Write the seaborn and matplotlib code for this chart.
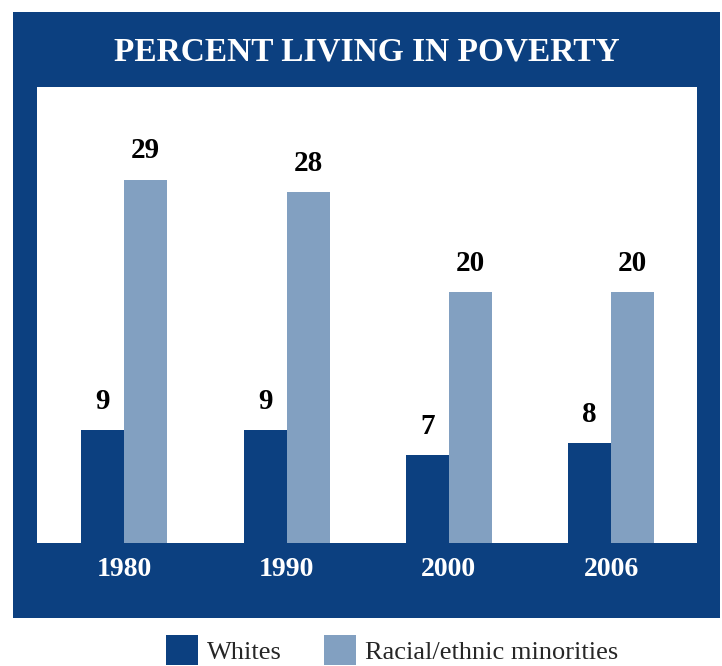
import matplotlib
matplotlib.use("Agg")
import matplotlib.pyplot as plt
from matplotlib.patches import Rectangle, Patch
import pandas as pd
import seaborn as sns

# --- chart colours ---
DARK_BLUE = "#0C4080"
LIGHT_BLUE = "#82A0C1"

# data
years = ["1980", "1990", "2000", "2006"]
whites = [9, 9, 7, 8]
minorities = [29, 28, 20, 20]
groups = ["Whites", "Racial/ethnic minorities"]

df = pd.DataFrame({
    "year": years * 2,
    "pct": whites + minorities,
    "group": [groups[0]] * len(years) + [groups[1]] * len(years),
})

sns.set_theme(style="white")
plt.rcParams['font.family'] = ['Liberation Serif', 'DejaVu Serif']

fig = plt.figure(figsize=(7.22, 6.66), dpi=100)
W, H = 722, 666

# dark frame behind the plot
fig.patches.append(Rectangle((13 / W, 1 - 618 / H), (720 - 13) / W, (618 - 12) / H,
                             transform=fig.transFigure, facecolor=DARK_BLUE,
                             edgecolor="none", zorder=-5))

ax = fig.add_axes([37 / W, 1 - 543 / H, (697 - 37) / W, (543 - 87) / H])
ax.set_facecolor("white")

sns.barplot(data=df, x="year", y="pct", hue="group", palette=[DARK_BLUE, LIGHT_BLUE],
            width=0.53, saturation=1, linewidth=0, ax=ax, legend=False)

for cont in ax.containers:
    ax.bar_label(cont, padding=11, fontsize=21, fontweight="bold", color="black")

ax.set_xlim(-0.537, 3.528)
ax.set_ylim(0, 36.4)
ax.set_yticks([])
ax.set_xlabel("")
ax.set_ylabel("")
for s in ax.spines.values():
    s.set_visible(False)
ax.tick_params(axis="x", length=0, pad=10, labelsize=20, labelcolor="white")
for t in ax.get_xticklabels():
    t.set_fontweight("bold")

fig.text(367 / W, 1 - 52 / H, "PERCENT LIVING IN POVERTY", ha="center", va="center",
         color="white", fontsize=24, fontweight="bold")

handles = [Patch(facecolor=DARK_BLUE, edgecolor="none"),
           Patch(facecolor=LIGHT_BLUE, edgecolor="none")]
fig.legend(handles, groups, loc="center", bbox_to_anchor=(392 / W, 1 - 650 / H),
           ncol=2, frameon=False, fontsize=19, handlelength=1.2, handleheight=1.4,
           handletextpad=0.35, columnspacing=1.6, borderpad=0)

fig.savefig("out.png", dpi=100)
